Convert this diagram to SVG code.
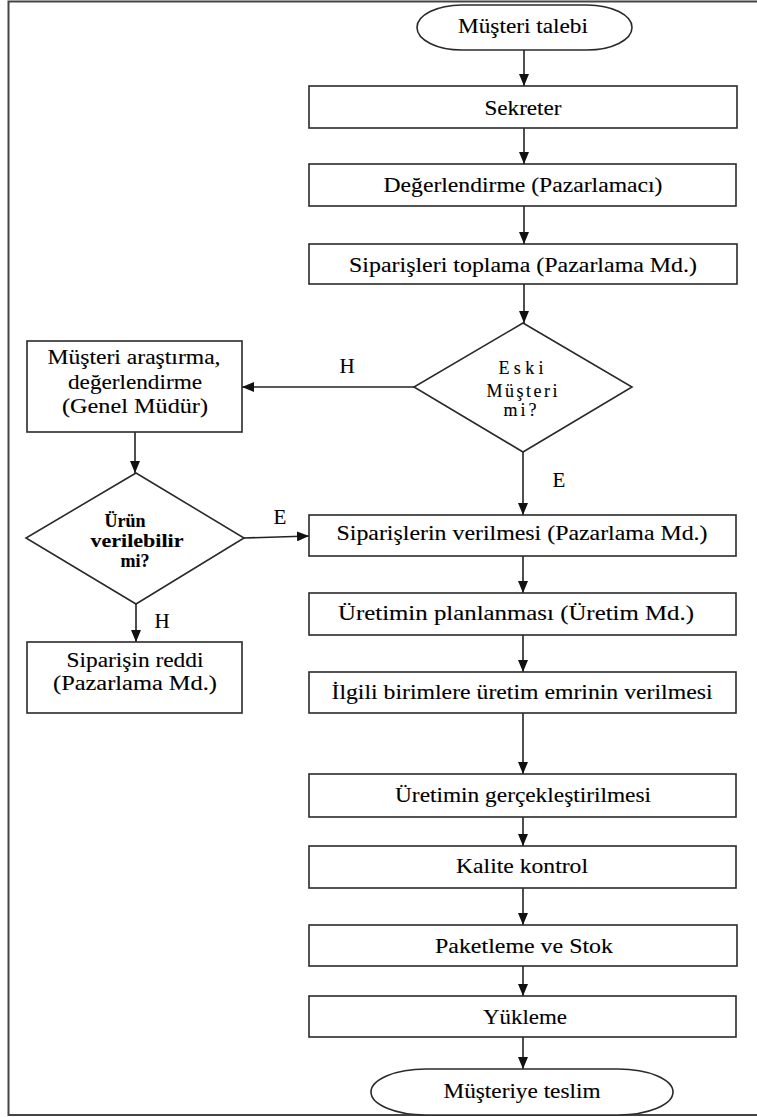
<svg xmlns="http://www.w3.org/2000/svg" width="757" height="1117" viewBox="0 0 757 1117" font-family="'Liberation Serif', 'Times New Roman', serif">
  <style>
    .box { fill: #ffffff; stroke: #2a2a2a; stroke-width: 1.6; }
    .frame { fill: none; stroke: #444444; stroke-width: 2; }
    .lbl { font-family: 'Liberation Serif', 'Times New Roman', serif; font-size: 21px; fill: #000000; stroke: #000000; stroke-width: 0.12; text-anchor: middle; }
    .sm { font-size: 18px; }
    .b { font-weight: bold; font-size: 18px; }
    .edge { fill: none; stroke: #222222; stroke-width: 1.6; marker-end: url(#arrow); }
  </style>
  <defs>
    <marker id="arrow" viewBox="0 0 12 10" refX="12" refY="5" markerWidth="12" markerHeight="10" markerUnits="userSpaceOnUse" orient="auto">
      <path d="M0,0 L12,5 L0,10 z" fill="#111111"/>
    </marker>
  </defs>

  <rect width="757" height="1117" fill="#ffffff"/>
  <!-- page frame -->
  <path class="frame" d="M760,1.5 H8.5 V1115 H760"/>

  <!-- connectors -->
  <g id="connectors">
    <path class="edge" d="M524,50 V86"/>
    <path class="edge" d="M524,128 V164"/>
    <path class="edge" d="M524,206 V244"/>
    <path class="edge" d="M524,284 V323"/>
    <path class="edge" d="M414,387 H242"/>
    <path class="edge" d="M523,452 V515"/>
    <path class="edge" d="M135,432 V473"/>
    <path class="edge" d="M244,538 L309,536"/>
    <path class="edge" d="M136,604 V642"/>
    <path class="edge" d="M523,556 V593"/>
    <path class="edge" d="M523,635 V672"/>
    <path class="edge" d="M523,713 V774"/>
    <path class="edge" d="M523,817 V846"/>
    <path class="edge" d="M523,888 V925"/>
    <path class="edge" d="M523,966 V996"/>
    <path class="edge" d="M523,1037 V1069"/>
    <text class="lbl" x="347" y="373">H</text>
    <text class="lbl" x="559" y="487">E</text>
    <text class="lbl" x="280" y="524">E</text>
    <text class="lbl" x="162" y="628">H</text>
  </g>

  <g id="n-talep">
    <rect class="box" x="417" y="5" width="215" height="45" rx="45" ry="22.5"/>
    <text class="lbl" x="523" y="33" textLength="130" lengthAdjust="spacingAndGlyphs">Müşteri talebi</text>
  </g>
  <g id="n-sekreter">
    <rect class="box" x="309" y="86" width="428" height="42"/>
    <text class="lbl" x="523" y="115" textLength="77" lengthAdjust="spacingAndGlyphs">Sekreter</text>
  </g>
  <g id="n-degerlendirme">
    <rect class="box" x="309" y="164" width="427" height="42"/>
    <text class="lbl" x="523" y="192" textLength="279" lengthAdjust="spacingAndGlyphs">Değerlendirme (Pazarlamacı)</text>
  </g>
  <g id="n-toplama">
    <rect class="box" x="309" y="244" width="428" height="40"/>
    <text class="lbl" x="523" y="272" textLength="348" lengthAdjust="spacingAndGlyphs">Siparişleri toplama (Pazarlama Md.)</text>
  </g>
  <g id="n-eski">
    <polygon class="box" points="523,323 632,387 523,452 414,387"/>
    <text class="lbl sm" x="521" y="374" textLength="45" lengthAdjust="spacing">Eski</text>
    <text class="lbl sm" x="522" y="397" textLength="71" lengthAdjust="spacing">Müşteri</text>
    <text class="lbl sm" x="520" y="416" textLength="33" lengthAdjust="spacing">mi?</text>
  </g>
  <g id="n-arastirma">
    <rect class="box" x="27" y="341" width="215" height="91"/>
    <text class="lbl" x="134" y="364" textLength="173" lengthAdjust="spacingAndGlyphs">Müşteri araştırma,</text>
    <text class="lbl" x="135" y="389" textLength="134" lengthAdjust="spacingAndGlyphs">değerlendirme</text>
    <text class="lbl" x="135" y="413" textLength="146" lengthAdjust="spacingAndGlyphs">(Genel Müdür)</text>
  </g>
  <g id="n-urun">
    <polygon class="box" points="136,473 244,538 136,604 26,538"/>
    <text class="lbl b" x="125" y="527">Ürün</text>
    <text class="lbl b" x="137" y="547" textLength="93" lengthAdjust="spacingAndGlyphs">verilebilir</text>
    <text class="lbl b" x="135" y="567">mi?</text>
  </g>
  <g id="n-verilmesi">
    <rect class="box" x="309" y="515" width="427" height="41"/>
    <text class="lbl" x="522" y="540" textLength="371" lengthAdjust="spacingAndGlyphs">Siparişlerin verilmesi (Pazarlama Md.)</text>
  </g>
  <g id="n-red">
    <rect class="box" x="27" y="642" width="215" height="71"/>
    <text class="lbl" x="135" y="667" textLength="137" lengthAdjust="spacingAndGlyphs">Siparişin reddi</text>
    <text class="lbl" x="135" y="690" textLength="164" lengthAdjust="spacingAndGlyphs">(Pazarlama Md.)</text>
  </g>
  <g id="n-planlama">
    <rect class="box" x="309" y="593" width="427" height="42"/>
    <text class="lbl" x="516" y="620" textLength="356" lengthAdjust="spacingAndGlyphs">Üretimin planlanması (Üretim Md.)</text>
  </g>
  <g id="n-emir">
    <rect class="box" x="309" y="672" width="427" height="41"/>
    <text class="lbl" x="522" y="699" textLength="381" lengthAdjust="spacingAndGlyphs">İlgili birimlere üretim emrinin verilmesi</text>
  </g>
  <g id="n-uretim">
    <rect class="box" x="309" y="774" width="427" height="43"/>
    <text class="lbl" x="523" y="802" textLength="256" lengthAdjust="spacingAndGlyphs">Üretimin gerçekleştirilmesi</text>
  </g>
  <g id="n-kalite">
    <rect class="box" x="309" y="846" width="427" height="42"/>
    <text class="lbl" x="522" y="873" textLength="132" lengthAdjust="spacingAndGlyphs">Kalite kontrol</text>
  </g>
  <g id="n-paket">
    <rect class="box" x="309" y="925" width="428" height="41"/>
    <text class="lbl" x="524" y="953" textLength="178" lengthAdjust="spacingAndGlyphs">Paketleme ve Stok</text>
  </g>
  <g id="n-yukleme">
    <rect class="box" x="309" y="996" width="427" height="41"/>
    <text class="lbl" x="525" y="1024" textLength="84" lengthAdjust="spacingAndGlyphs">Yükleme</text>
  </g>
  <g id="n-teslim">
    <rect class="box" x="371" y="1069" width="302" height="46" rx="55" ry="23"/>
    <text class="lbl" x="522" y="1098" textLength="157" lengthAdjust="spacingAndGlyphs">Müşteriye teslim</text>
  </g>
</svg>
